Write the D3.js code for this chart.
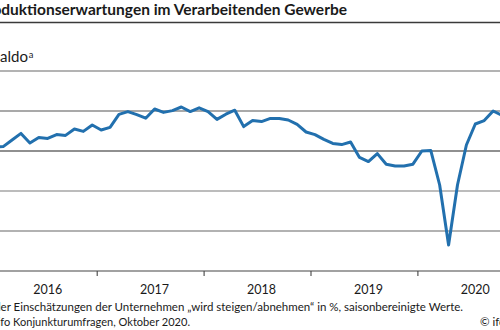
<!DOCTYPE html>
<html>
<head>
<meta charset="utf-8">
<script src="https://cdn.jsdelivr.net/npm/d3@7/dist/d3.min.js"></script>
<style>
  html, body { margin: 0; padding: 0; background: #fff; overflow: hidden; }
  svg { display: block; font-family: Lato, "Noto Sans", sans-serif; }
</style>
</head>
<body>
<svg id="chart" width="500" height="330"></svg>
<script>
// ---- data (monthly, Jan 2016 .. Oct 2020) ----
const startYear = 2016;
const values = [
  2, 2.2, 5.5, 8.8, 4, 6.8, 6.3, 8.2, 7.8, 11, 9.8, 13,
  10.5, 11.8, 18.3, 19.7, 18.2, 16.4, 21, 19.3, 20.2, 22, 19.7, 21.6,
  19.7, 15.8, 18.4, 20.4, 12.2, 15.2, 14.7, 16.3, 16.3, 15.5, 13.3, 9.5,
  8.2, 5.8, 3.8, 3.2, 4.5, -3.2, -5.3, -1.3, -6.6, -7.5, -7.5, -6.6,
  0, 0.3, -17, -47, -17, 3, 13.5, 15.2, 20, 17.8
];
const yearLabels = ["2016", "2017", "2018", "2019", "2020"];
const yTicks = [40, 20, 0, -20, -40, -60];

const titleText = "Produktionserwartungen im Verarbeitenden Gewerbe";
const unitText = "Saldo";
const noteText = "ᵃ Saldo der Einschätzungen der Unternehmen „wird steigen/abnehmen“ in %, saisonbereinigte Werte.";
const sourceText = "Quelle: ifo Konjunkturumfragen, Oktober 2020.";
const copyText = "© ifo Institut";

// ---- layout ----
const svg = d3.select("#chart");
const x = d3.scaleLinear().domain([0, 60]).range([-10.2, 524.3]);
const y = d3.scaleLinear().domain([-60, 40]).range([271, 71]);

// helper: size text so that its visible tail fits a measured width
function fitSize(str, target, weight) {
  const t = svg.append("text").attr("font-size", 100).attr("font-weight", weight).text(str);
  const w = t.node().getComputedTextLength();
  t.remove();
  return 100 * target / w;
}

// title
const tSize = fitSize("duktionserwartungen im Verarbeitenden Gewerbe", 346, 700);
svg.append("text").attr("x", 347).attr("y", 15).attr("text-anchor", "end")
  .attr("font-size", tSize).attr("font-weight", 700).attr("fill", "#1a1a1a").text(titleText);
svg.append("line").attr("x1", 0).attr("x2", 500).attr("y1", 22.5).attr("y2", 22.5)
  .attr("stroke", "#3a3a3a").attr("stroke-width", 1.7);

// unit label
const uSize = fitSize("aldo", 28, 400);
svg.append("text").attr("x", 28).attr("y", 62).attr("text-anchor", "end")
  .attr("font-size", uSize).attr("fill", "#1a1a1a").text(unitText);
svg.append("text").attr("x", 28.8).attr("y", 58).attr("font-size", uSize * 0.62)
  .attr("fill", "#1a1a1a").text("a");

// gridlines
const gridColor = {"40": "#9a9a9a", "20": "#555", "0": "#222", "-20": "#7a7a7a", "-40": "#666", "-60": "#444"};
svg.append("g").selectAll("line").data(yTicks).join("line")
  .attr("x1", 0).attr("x2", 500)
  .attr("y1", d => y(d)).attr("y2", d => y(d))
  .attr("stroke", d => gridColor[String(d)])
  .attr("stroke-width", d => d === 40 ? 1.7 : 1.1);

// x axis ticks (year boundaries) and labels
const xAxis = d3.axisBottom(x)
  .tickValues([12, 24, 36, 48])
  .tickSize(5).tickSizeOuter(0)
  .tickFormat("");
const ax = svg.append("g").attr("transform", `translate(0,${y(-60)})`).call(xAxis);
ax.select(".domain").remove();
ax.selectAll(".tick line").attr("stroke", "#444").attr("stroke-width", 1.1);

svg.append("g").selectAll("text").data(yearLabels).join("text")
  .attr("x", (d, i) => x(i * 12 + 6.5))
  .attr("y", 294)
  .attr("text-anchor", "middle")
  .attr("font-size", 12.5)
  .attr("fill", "#1a1a1a")
  .text(d => d);

// data line
const line = d3.line()
  .x((d, i) => x(i + 0.5))
  .y(d => y(d));
svg.append("path").datum(values)
  .attr("d", line)
  .attr("fill", "none")
  .attr("stroke", "#2270ae")
  .attr("stroke-width", 3)
  .attr("stroke-linejoin", "round");

// footnotes
const nSize = fitSize("er Einschätzungen der Unternehmen „wird steigen/abnehmen“ in %, saisonbereinigte Werte.", 463, 400);
svg.append("text").attr("x", 463).attr("y", 311).attr("text-anchor", "end")
  .attr("font-size", nSize).attr("fill", "#1a1a1a").text(noteText);
const sSize = fitSize("fo Konjunkturumfragen, Oktober 2020.", 190, 400);
svg.append("text").attr("x", 190).attr("y", 326).attr("text-anchor", "end")
  .attr("font-size", sSize).attr("fill", "#1a1a1a").text(sourceText);
svg.append("text").attr("x", 480).attr("y", 326)
  .attr("font-size", nSize).attr("fill", "#1a1a1a").text(copyText);
</script>
</body>
</html>
